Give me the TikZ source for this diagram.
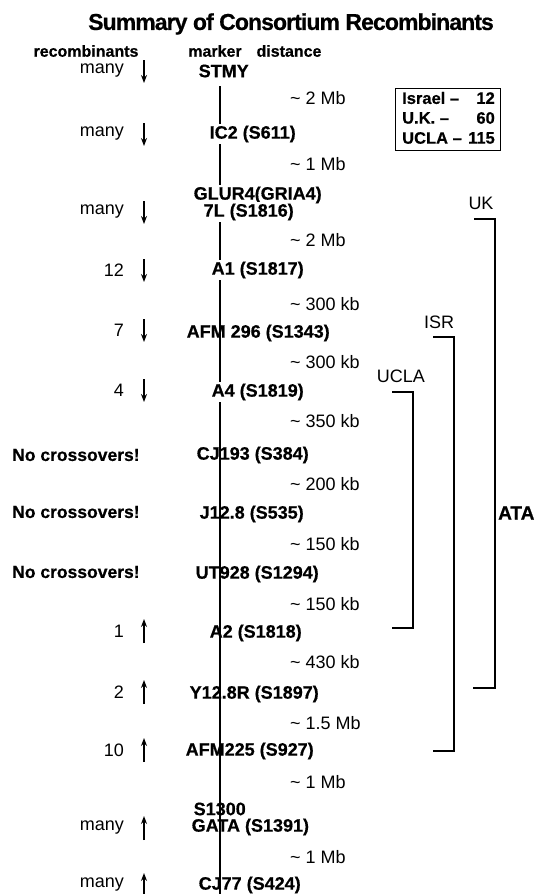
\documentclass[tikz,border=0pt]{standalone}
\usepackage{fontspec}
\setmainfont{Liberation Sans}[BoldFeatures={FakeBold=0.6}]
\newfontfamily\titlefont{Liberation Sans}[LetterSpace=-4.0, BoldFeatures={FakeBold=0.6}]
\usetikzlibrary{arrows.meta}
\tikzset{
  mk/.style={font=\bfseries\fontsize{18}{18}\selectfont, anchor=west, inner sep=1.5pt},
  mkw/.style={mk, fill=white},
  dist/.style={font=\fontsize{18}{18}\selectfont, anchor=west, inner sep=0pt},
  num/.style={font=\fontsize{18}{18}\selectfont, anchor=east, inner sep=0pt},
  hdr/.style={font=\bfseries\fontsize{16}{16}\selectfont, inner sep=0pt},
  nox/.style={font=\bfseries\fontsize{17.5}{17.5}\selectfont, anchor=west, inner sep=0pt},
  lg/.style={font=\bfseries\fontsize{16.5}{16.5}\selectfont, inner sep=0pt},
  grp/.style={font=\fontsize{18}{18}\selectfont, inner sep=0pt},
  brk/.style={line width=2.2pt},
  arr/.style={line width=1.5pt, -{Stealth[length=8pt,width=6pt]}},
  spine/.style={line width=1.2pt}
}
\begin{document}
\begin{tikzpicture}[x=1pt,y=-1pt]
\useasboundingbox (0,0) rectangle (541,894);
% spine
\coordinate (ltop) at (220,86);
\coordinate (lbot) at (220,894);
\draw[spine] (ltop) -- (lbot);
% title and headers
\node[font=\titlefont\bfseries\fontsize{23}{23}\selectfont, inner sep=0pt] (title) at (291,24) {Summary of Consortium Recombinants};
\node[hdr] (hrec) at (86,51) {recombinants};
\node[hdr] (hmark) at (215,51) {marker};
\node[hdr] (hdist) at (289,51) {distance};
% markers
\node[mk] (stmy) at (197,71) {STMY};
\node[mkw] (ic2) at (208,134) {IC2 (S611)};
\node[mkw] (glur) at (192,195) {GLUR4(GRIA4)};
\node[mkw] (sevenl) at (202,212) {7L (S1816)};
\node[mkw] (aone) at (210,270) {A1 (S1817)};
\node[mk] (afm296) at (185,333) {AFM 296 (S1343)};
\node[mkw] (afour) at (210,392) {A4 (S1819)};
\node[mk] (cj193) at (195,455) {CJ193 (S384)};
\node[mk] (j128) at (198,514) {J12.8 (S535)};
\node[mk] (ut928) at (194,574) {UT928 (S1294)};
\node[mk] (atwo) at (208,633) {A2 (S1818)};
\node[mk] (y128r) at (188,694) {Y12.8R (S1897)};
\node[mk] (afm225) at (184,751) {AFM225 (S927)};
\node[mk] (s1300) at (192,809) {S1300};
\node[mk] (gata) at (190,827) {GATA (S1391)};
\node[mk] (cj77) at (197,885) {CJ77 (S424)};
% distances
\node[dist] (d1) at (290,98) {\textasciitilde{} 2 Mb};
\node[dist] (d2) at (290,164) {\textasciitilde{} 1 Mb};
\node[dist] (d3) at (290,240) {\textasciitilde{} 2 Mb};
\node[dist] (d4) at (290,304) {\textasciitilde{} 300 kb};
\node[dist] (d5) at (290,362) {\textasciitilde{} 300 kb};
\node[dist] (d6) at (290,421) {\textasciitilde{} 350 kb};
\node[dist] (d7) at (290,484) {\textasciitilde{} 200 kb};
\node[dist] (d8) at (290,544) {\textasciitilde{} 150 kb};
\node[dist] (d9) at (290,604) {\textasciitilde{} 150 kb};
\node[dist] (d10) at (290,662) {\textasciitilde{} 430 kb};
\node[dist] (d11) at (290,723) {\textasciitilde{} 1.5 Mb};
\node[dist] (d12) at (290,782) {\textasciitilde{} 1 Mb};
\node[dist] (d13) at (290,857) {\textasciitilde{} 1 Mb};
% recombinant counts
\node[num] (n1) at (124,71) {many};
\node[num] (n2) at (124,134) {many};
\node[num] (n3) at (124,212) {many};
\node[num] (n4) at (124,270) {12};
\node[num] (n5) at (124,330) {7};
\node[num] (n6) at (124,390) {4};
\node[nox] (x1) at (12,455) {No crossovers!};
\node[nox] (x2) at (12,512) {No crossovers!};
\node[nox] (x3) at (12,572) {No crossovers!};
\node[num] (n7) at (124,631) {1};
\node[num] (n8) at (124,692) {2};
\node[num] (n9) at (124,750) {10};
\node[num] (n10) at (124,828) {many};
\node[num] (n11) at (124,885) {many};
% arrows
\foreach \i/\y in {1/71,2/134,3/212,4/270,5/330,6/390}{
  \coordinate (da\i) at (144,\y-11);
  \coordinate (db\i) at (144,\y+12);
  \draw[arr] (da\i) -- (db\i);
}
\foreach \i/\y in {7/631,8/692,9/750,10/828,11/885}{
  \coordinate (ua\i) at (144,\y+12);
  \coordinate (ub\i) at (144,\y-12);
  \draw[arr] (ua\i) -- (ub\i);
}
% legend
\node[draw, line width=1.3pt, minimum width=105pt, minimum height=62pt, anchor=north west, inner sep=0pt] (legend) at (395,88) {};
\node[lg, anchor=west] (l1a) at (402,98) {Israel --};
\node[lg, anchor=east] (l1b) at (495,98) {12};
\node[lg, anchor=west] (l2a) at (402,118) {U.K. --};
\node[lg, anchor=east] (l2b) at (495,118) {60};
\node[lg, anchor=west] (l3a) at (402,138) {UCLA --};
\node[lg, anchor=east] (l3b) at (495,138) {115};
% brackets
\node[grp] (uk) at (481,203) {UK};
\node[grp] (isr) at (439,322) {ISR};
\node[grp] (ucla) at (401,376) {UCLA};
\node[font=\bfseries\fontsize{19}{19}\selectfont, inner sep=0pt, anchor=west] (ata) at (498,513) {ATA};
\coordinate (uk1) at (474,219); \coordinate (uk2) at (495,219);
\coordinate (uk3) at (495,688); \coordinate (uk4) at (473,688);
\draw[brk] (uk1) -- (uk2) -- (uk3) -- (uk4);
\coordinate (is1) at (433,337); \coordinate (is2) at (454,337);
\coordinate (is3) at (454,751); \coordinate (is4) at (433,751);
\draw[brk] (is1) -- (is2) -- (is3) -- (is4);
\coordinate (uc1) at (392,392); \coordinate (uc2) at (413,392);
\coordinate (uc3) at (413,628); \coordinate (uc4) at (392,628);
\draw[brk] (uc1) -- (uc2) -- (uc3) -- (uc4);
\end{tikzpicture}
\end{document}
